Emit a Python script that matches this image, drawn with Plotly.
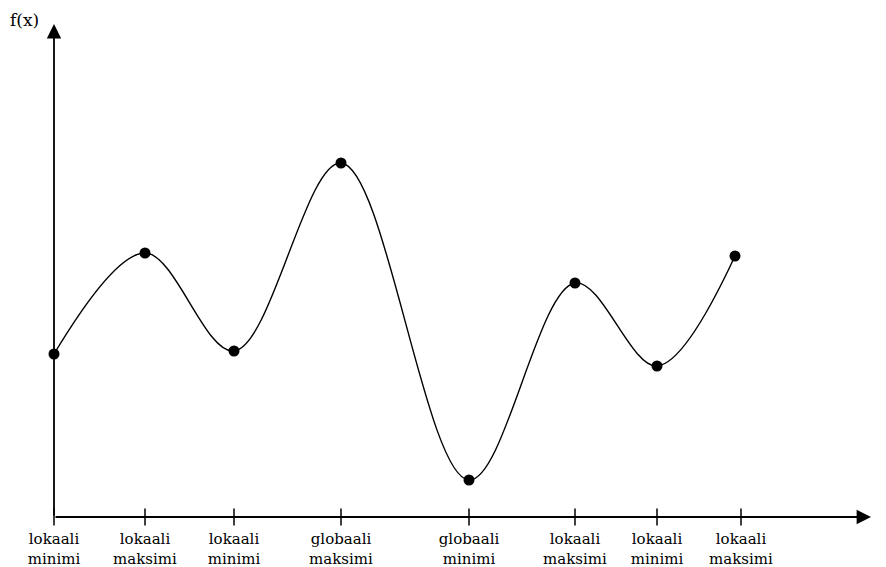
import plotly.graph_objects as go

# Data (units: x and f(x) in arbitrary units, origin at axis crossing)
point_x = [0.0, 9.1, 18.0, 28.7, 41.5, 52.1, 60.3, 68.1]
point_y = [16.3, 26.4, 16.6, 35.4, 3.7, 23.4, 15.1, 26.1]
tick_x = [0.0, 9.1, 18.0, 28.7, 41.5, 52.1, 60.3, 68.7]
tick_labels = ["lokaali<br>minimi", "lokaali<br>maksimi", "lokaali<br>minimi",
               "globaali<br>maksimi", "globaali<br>minimi", "lokaali<br>maksimi",
               "lokaali<br>minimi", "lokaali<br>maksimi"]

x_axis_end = 81.7
y_axis_end = 49.3

FONT = "DejaVu Serif"

fig = go.Figure()

# curve
fig.add_trace(go.Scatter(
    x=point_x, y=point_y, mode="lines",
    line=dict(color="black", width=1.4, shape="spline", smoothing=1.0),
    cliponaxis=False, hoverinfo="skip", showlegend=False))

# tick marks crossing the axis
fig.add_trace(go.Scatter(
    x=tick_x, y=[0] * len(tick_x), mode="markers",
    marker=dict(symbol="line-ns", size=12, line=dict(color="black", width=1.5)),
    cliponaxis=False, hoverinfo="skip", showlegend=False))

# extremum points
fig.add_trace(go.Scatter(
    x=point_x, y=point_y, mode="markers",
    marker=dict(color="black", size=11),
    cliponaxis=False, showlegend=False))

# axes with arrows
fig.add_annotation(x=x_axis_end, y=0, ax=0, ay=0, xref="x", yref="y", axref="x", ayref="y",
                   showarrow=True, arrowhead=2, arrowsize=1.6, arrowwidth=1.8,
                   arrowcolor="black", text="")
fig.add_annotation(x=0, y=y_axis_end, ax=0, ay=0, xref="x", yref="y", axref="x", ayref="y",
                   showarrow=True, arrowhead=2, arrowsize=1.6, arrowwidth=1.8,
                   arrowcolor="black", text="")

fig.add_annotation(x=-3.0, y=49.7, xref="x", yref="y", text="f(x)", showarrow=False,
                   font=dict(family=FONT, size=17, color="black"))
fig.add_annotation(x=82.8, y=-1.0, xref="x", yref="y", text="x", showarrow=False,
                   font=dict(family=FONT, size=17, color="black"))

fig.update_layout(
    width=886, height=567,
    margin=dict(l=20, r=6, t=10, b=50),
    paper_bgcolor="white", plot_bgcolor="white",
    xaxis=dict(range=[-3.4, 82.6], showgrid=False, zeroline=False, showline=False,
               automargin=False,
               tickmode="array", tickvals=tick_x, ticktext=tick_labels,
               ticks="outside", ticklen=8, tickcolor="rgba(0,0,0,0)", tickwidth=1.5,
               tickfont=dict(family=FONT, size=15, color="black")),
    yaxis=dict(range=[0, 50.7], showgrid=False, zeroline=False, showline=False,
               automargin=False, showticklabels=False, ticks=""),
)

fig.write_html("out.html", config={"displayModeBar": False},
               post_script="document.body.style.margin='0';document.documentElement.style.overflow='hidden';")
